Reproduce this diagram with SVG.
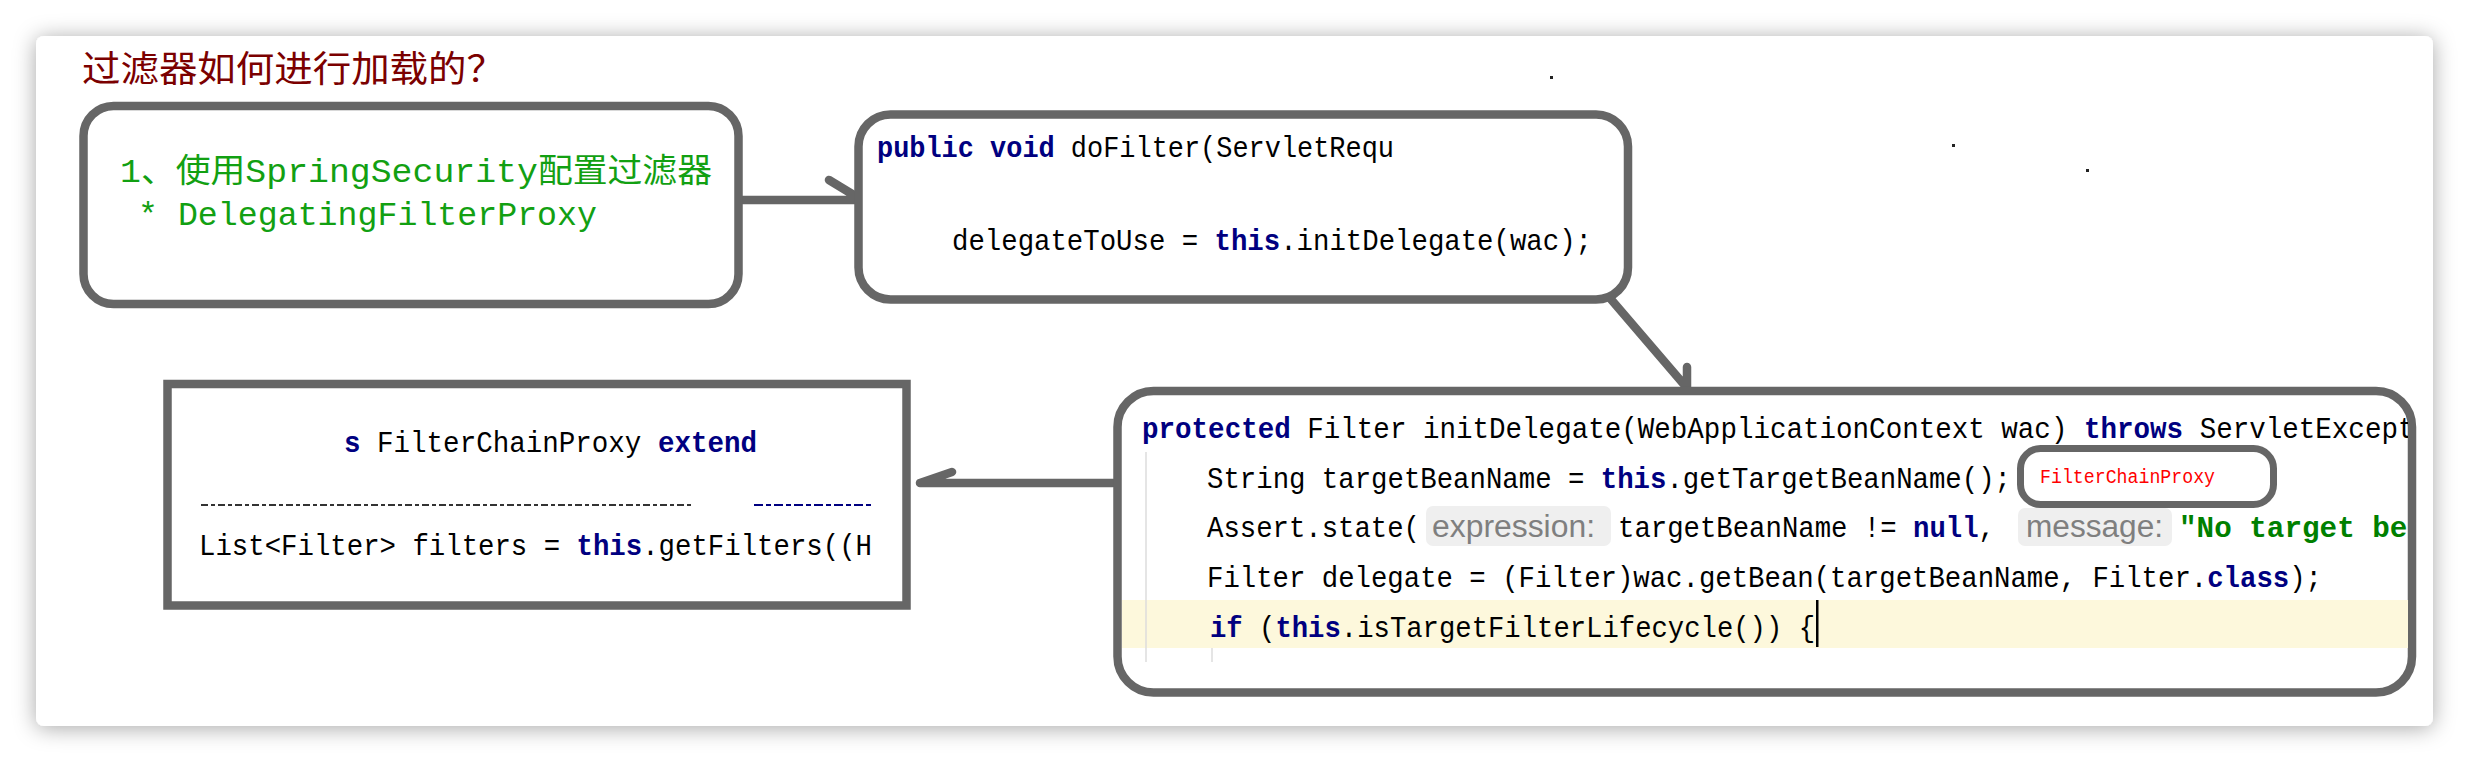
<svg xmlns="http://www.w3.org/2000/svg" width="2470" height="762" viewBox="0 0 2470 762">
  <defs>
    <filter id="shadow" x="-5%" y="-10%" width="110%" height="120%">
      <feDropShadow dx="0" dy="2" stdDeviation="11" flood-color="#000" flood-opacity="0.35"/>
    </filter>
    <clipPath id="clip3"><rect x="1122" y="395" width="1286" height="293"/></clipPath>
    <clipPath id="clip4"><rect x="172" y="389" width="730" height="212"/></clipPath>
  </defs>
  <style>
    .box { fill: #ffffff; stroke: #666666; stroke-width: 8.5; }
    .conn { fill: none; stroke: #666666; stroke-width: 8.5; stroke-linecap: round; stroke-linejoin: round; }
    .code { font-family: "Liberation Mono", "DejaVu Sans Mono", monospace; font-size: 29px; fill: #000000; }
    .kw { font-weight: bold; fill: #000080; }
    .str { font-weight: bold; fill: #008000; }
    .hint { font-family: "Liberation Sans", Arial, sans-serif; font-size: 31px; fill: #7f7f7f; }
    .hintbg { fill: #efefef; }
    .green { font-family: "Liberation Mono", "Noto Sans CJK SC", monospace; font-size: 33px; fill: #12a012; }
    .dot { fill: #222222; }
  </style>

  <rect x="0" y="0" width="2470" height="762" fill="#ffffff"/>
  <rect x="36" y="36" width="2397" height="690" rx="8" fill="#ffffff" filter="url(#shadow)"/>

  <text id="title" x="82" y="82" font-family="'Noto Sans CJK SC', sans-serif" font-size="36" fill="#7b0000" textLength="423" lengthAdjust="spacingAndGlyphs">过滤器如何进行加载的？</text>

  <rect class="dot" x="1550" y="76" width="3" height="3"/>
  <rect class="dot" x="1952" y="144" width="3" height="3"/>
  <rect class="dot" x="2086" y="169" width="3" height="3"/>

  <g id="connectors">
    <path class="conn" d="M742 200 L857 200 M829 180 L857 197"/>
    <path class="conn" d="M1597 283 L1687 388 M1687 367 L1687 388"/>
    <path class="conn" d="M1113 483 L920 483 L952 472"/>
  </g>

  <g id="node-config">
    <rect class="box" x="83.5" y="106" width="655" height="198" rx="30"/>
    <text class="green" x="120" y="182" textLength="592" lengthAdjust="spacingAndGlyphs">1、使用SpringSecurity配置过滤器</text>
    <text class="green" x="138" y="225" textLength="459" lengthAdjust="spacingAndGlyphs">* DelegatingFilterProxy</text>
  </g>

  <g id="node-dofilter">
    <rect class="box" x="858.5" y="114.5" width="769.5" height="185" rx="32"/>
    <text class="code" x="877" y="157" textLength="517" lengthAdjust="spacingAndGlyphs"><tspan class="kw">public void</tspan> doFilter(ServletRequ</text>
    <text class="code" x="952" y="250" textLength="640" lengthAdjust="spacingAndGlyphs">delegateToUse = <tspan class="kw">this</tspan>.initDelegate(wac);</text>
  </g>

  <g id="node-initdelegate">
    <rect class="box" x="1117.5" y="391" width="1294.5" height="301.5" rx="36"/>
    <g clip-path="url(#clip3)">
      <rect x="1122" y="600" width="1286" height="48" fill="#fdf8dc"/>
      <line x1="1146" y1="452" x2="1146" y2="662" stroke="#dcdcdc" stroke-width="1.5"/>
      <line x1="1212" y1="648" x2="1212" y2="662" stroke="#dcdcdc" stroke-width="1.5"/>
      <text class="code" x="1142" y="438" textLength="1289" lengthAdjust="spacingAndGlyphs"><tspan class="kw">protected</tspan> Filter initDelegate(WebApplicationContext wac) <tspan class="kw">throws</tspan> ServletExcepti</text>
      <text class="code" x="1207" y="488" textLength="804" lengthAdjust="spacingAndGlyphs">String targetBeanName = <tspan class="kw">this</tspan>.getTargetBeanName();</text>
      <text class="code" x="1207" y="537" textLength="213" lengthAdjust="spacingAndGlyphs">Assert.state(</text>
      <rect class="hintbg" x="1426" y="506" width="185" height="40" rx="7"/>
      <text class="hint" x="1432" y="537" textLength="163" lengthAdjust="spacingAndGlyphs">expression:</text>
      <text class="code" x="1618" y="537" textLength="377" lengthAdjust="spacingAndGlyphs">targetBeanName != <tspan class="kw">null</tspan>,</text>
      <rect class="hintbg" x="2018" y="508" width="154" height="38" rx="7"/>
      <text class="hint" x="2026" y="537" textLength="137" lengthAdjust="spacingAndGlyphs">message:</text>
      <text class="code str" x="2179" y="537" textLength="246" lengthAdjust="spacingAndGlyphs">"No target bea</text>
      <text class="code" x="1207" y="587" textLength="1115" lengthAdjust="spacingAndGlyphs">Filter delegate = (Filter)wac.getBean(targetBeanName, Filter.<tspan class="kw">class</tspan>);</text>
      <text class="code" x="1210" y="637" textLength="605" lengthAdjust="spacingAndGlyphs"><tspan class="kw">if</tspan> (<tspan class="kw">this</tspan>.isTargetFilterLifecycle()) {</text>
      <rect x="1816" y="600" width="2.5" height="47" fill="#000000"/>
    </g>
    <g id="callout">
      <rect x="2020.5" y="448.5" width="253" height="56" rx="20" fill="#ffffff" stroke="#666666" stroke-width="7"/>
      <text x="2040" y="483" font-family="'Liberation Mono', monospace" font-size="20" fill="#ff0000" textLength="175" lengthAdjust="spacingAndGlyphs">FilterChainProxy</text>
    </g>
  </g>

  <g id="node-filterchainproxy">
    <rect class="box" x="167.5" y="384" width="739" height="221.5"/>
    <g clip-path="url(#clip4)">
      <text class="code" x="344" y="452" textLength="413" lengthAdjust="spacingAndGlyphs"><tspan class="kw">s</tspan> FilterChainProxy <tspan class="kw">extend</tspan></text>
      <line x1="201" y1="505" x2="693" y2="505" stroke="#333333" stroke-width="2" stroke-dasharray="7 3 4 3"/>
      <line x1="754" y1="505" x2="872" y2="505" stroke="#000080" stroke-width="2" stroke-dasharray="9 3 5 3"/>
      <text class="code" x="199" y="555" textLength="673" lengthAdjust="spacingAndGlyphs">List&lt;Filter&gt; filters = <tspan class="kw">this</tspan>.getFilters((H</text>
    </g>
  </g>
</svg>
